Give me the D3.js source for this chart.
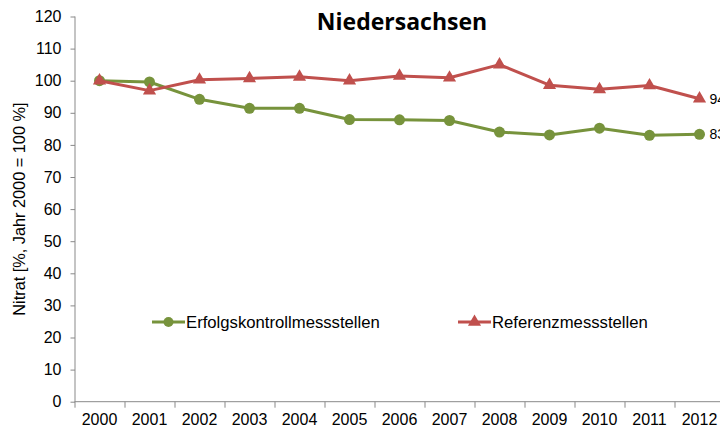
<!DOCTYPE html>
<html>
<head>
<meta charset="utf-8">
<script src="https://cdn.jsdelivr.net/npm/d3@7"></script>
<style>
  body { margin: 0; background: #fff; }
  svg { display: block; font-family: "Liberation Sans", Arial, sans-serif; }
</style>
</head>
<body>
<script>
// chart size
var width = 720
var height = 432

// data
const years = ["2000", "2001", "2002", "2003", "2004", "2005", "2006", "2007", "2008", "2009", "2010", "2011", "2012"]
const erfolg = [100, 99.6, 94.2, 91.4, 91.4, 87.9, 87.8, 87.6, 84.0, 83.1, 85.2, 83.0, 83.3]
const referenz = [100, 96.9, 100.3, 100.7, 101.2, 100.0, 101.5, 100.9, 105.0, 98.6, 97.3, 98.5, 94.4]
const yTicks = [0, 10, 20, 30, 40, 50, 60, 70, 80, 90, 100, 110, 120]
const endLabels = ["83", "94"]

const green = "#77933c"
const red = "#c0504d"
const axisColor = "#898989"

const svg = d3.select("body").append("svg")
    .attr("width", width)
    .attr("height", height)

const margin = { top: 16.5, right: -4.5, bottom: 30.3, left: 74.5 }
const innerWidth = width - margin.left - margin.right
const innerHeight = height - margin.top - margin.bottom

const g = svg.append("g")
    .attr("transform", "translate(" + margin.left + "," + margin.top + ")")

const xScale = d3.scaleBand().domain(years).range([0, innerWidth])
const yScale = d3.scaleLinear().domain([0, 120]).range([innerHeight, 0])
const xPos = (d, i) => xScale(years[i]) + xScale.bandwidth() / 2

// y axis
const yAxis = g.append("g")
    .call(d3.axisLeft(yScale).tickValues(yTicks).tickSize(4).tickPadding(9))
yAxis.select(".domain").attr("stroke", axisColor).attr("d", "M0.5," + innerHeight + "V0")
yAxis.selectAll(".tick line").attr("stroke", axisColor).attr("x1", 0.5)
yAxis.selectAll("text").attr("font-size", "16px").attr("fill", "#000")
    .attr("font-family", "'Liberation Sans', Arial, sans-serif")

// x axis with ticks between categories
const xAxis = g.append("g")
    .attr("transform", "translate(0," + innerHeight + ")")
xAxis.append("line")
    .attr("x1", 0).attr("x2", innerWidth)
    .attr("y1", 0).attr("y2", 0)
    .attr("stroke", axisColor)
xAxis.selectAll(".xt")
    .data(years)
    .enter()
    .append("line")
    .attr("class", "xt")
    .attr("x1", d => Math.round(xScale(d)) + 0.5)
    .attr("x2", d => Math.round(xScale(d)) + 0.5)
    .attr("y1", 0).attr("y2", 6)
    .attr("stroke", axisColor)
xAxis.selectAll(".xl")
    .data(years)
    .enter()
    .append("text")
    .attr("class", "xl")
    .attr("x", d => xScale(d) + xScale.bandwidth() / 2)
    .attr("y", 23)
    .attr("text-anchor", "middle")
    .attr("font-size", "16px")
    .text(d => d)

// y axis title
svg.append("text")
    .attr("transform", "translate(25," + (margin.top + innerHeight / 2) + ") rotate(-90)")
    .attr("text-anchor", "middle")
    .attr("font-size", "16.3px")
    .text("Nitrat [%, Jahr 2000 = 100 %]")

// title
svg.append("text")
    .attr("x", 402)
    .attr("y", 30)
    .attr("text-anchor", "middle")
    .attr("font-size", "23px")
    .attr("font-weight", "bold")
    .attr("font-family", "'Open Sans', 'Liberation Sans', sans-serif")
    .text("Niedersachsen")

const line = d3.line()
    .x(xPos)
    .y(d => yScale(d))

// green series
g.append("path")
    .datum(erfolg)
    .attr("d", line)
    .attr("fill", "none")
    .attr("stroke", green)
    .attr("stroke-width", 3)
    .attr("stroke-linejoin", "round")
g.selectAll(".dotG")
    .data(erfolg)
    .enter()
    .append("circle")
    .attr("cx", xPos)
    .attr("cy", d => yScale(d))
    .attr("r", 5.5)
    .attr("fill", green)

// red series
g.append("path")
    .datum(referenz)
    .attr("d", line)
    .attr("fill", "none")
    .attr("stroke", red)
    .attr("stroke-width", 3)
    .attr("stroke-linejoin", "round")
const tri = d3.symbol().type(d3.symbolTriangle).size(75)
g.selectAll(".triR")
    .data(referenz)
    .enter()
    .append("path")
    .attr("d", tri)
    .attr("transform", (d, i) => "translate(" + xPos(d, i) + "," + yScale(d) + ")")
    .attr("fill", red)

// end labels
const lastI = years.length - 1
g.selectAll(".endLab")
    .data([erfolg[lastI], referenz[lastI]])
    .enter()
    .append("text")
    .attr("x", xPos(null, lastI) + 10)
    .attr("y", d => yScale(d) + 5)
    .attr("font-size", "14px")
    .text((d, i) => endLabels[i])

// legend
const legendData = [
    { name: "Erfolgskontrollmessstellen", color: green, shape: "circle", x: 152 },
    { name: "Referenzmessstellen", color: red, shape: "triangle", x: 458 }
]
const legend = svg.append("g")
legendData.forEach(d => {
    const lg = legend.append("g").attr("transform", "translate(" + d.x + ",322)")
    lg.append("line").attr("x1", 0).attr("x2", 33).attr("stroke", d.color).attr("stroke-width", 3)
    if (d.shape === "circle") {
        lg.append("circle").attr("cx", 16.5).attr("r", 5).attr("fill", d.color)
    } else {
        lg.append("path").attr("d", tri).attr("transform", "translate(16.5,0)").attr("fill", d.color)
    }
    lg.append("text").attr("x", 34).attr("y", 6).attr("font-size", "16.7px").text(d.name)
})
</script>
</body>
</html>
